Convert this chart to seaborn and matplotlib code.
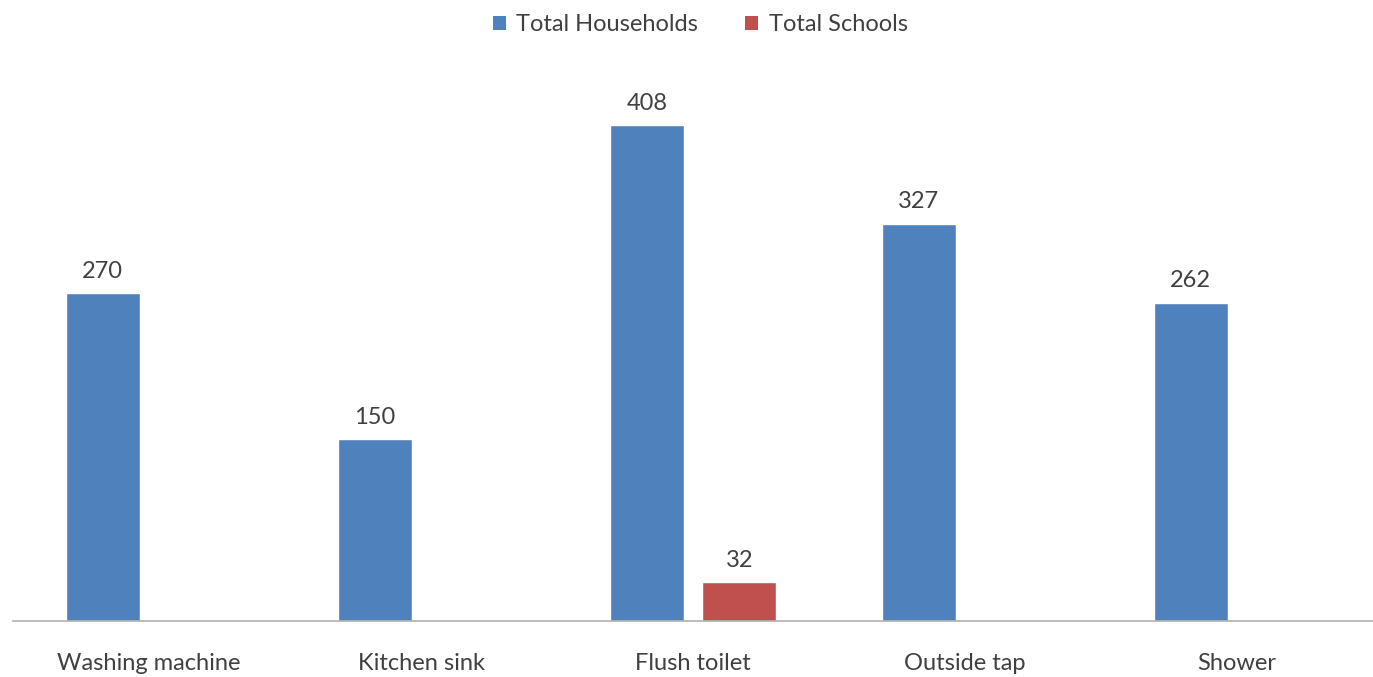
import matplotlib
matplotlib.use("Agg")
import matplotlib.pyplot as plt
import seaborn as sns
import pandas as pd
from matplotlib.patches import Patch

categories = ["Washing machine", "Kitchen sink", "Flush toilet", "Outside tap", "Shower"]
households = [270, 150, 408, 327, 262]
schools = [0, 0, 32, 0, 0]
series_names = ["Total Households", "Total Schools"]
colors = ["#4F81BD", "#C0504D"]

df = pd.DataFrame({
    "category": categories * 2,
    "value": households + schools,
    "series": [series_names[0]] * len(categories) + [series_names[1]] * len(categories),
})

sns.set_theme(style="white")
plt.rcParams["font.family"] = ["Lato", "DejaVu Sans"]
text_color = "#404040"

fig = plt.figure(figsize=(13.73, 6.77), dpi=100)
ax = fig.add_axes([13 / 1373, 1 - 621 / 677, 1 - 13 / 1373, (621 - 74) / 677])

sns.barplot(data=df, x="category", y="value", hue="series", palette=colors,
            width=0.68, gap=0.2, ax=ax, legend=False, saturation=1)

for container, vals in zip(ax.containers, [households, schools]):
    labels = [str(v) if v else "" for v in vals]
    ax.bar_label(container, labels=labels, padding=8, fontsize=17, color=text_color)

ax.set_xlim(-0.5, 4.5)
ax.set_ylim(0, 450)
ax.set_xlabel("")
ax.set_ylabel("")
ax.set_yticks([])
for s in ["top", "right", "left"]:
    ax.spines[s].set_visible(False)
ax.spines["bottom"].set_color("#B0B0B0")
ax.spines["bottom"].set_linewidth(1.2)
ax.tick_params(axis="x", length=0, pad=23, labelsize=17, labelcolor=text_color)

handles = [Patch(facecolor=c, edgecolor="none") for c in colors]
fig.legend(handles, series_names, loc="upper center", bbox_to_anchor=(0.51, 1.01), ncol=2,
           frameon=False, fontsize=17, handlelength=0.55, handleheight=0.55,
           handletextpad=0.45, columnspacing=2.0, labelcolor=text_color)

fig.savefig("out.png", dpi=100)
